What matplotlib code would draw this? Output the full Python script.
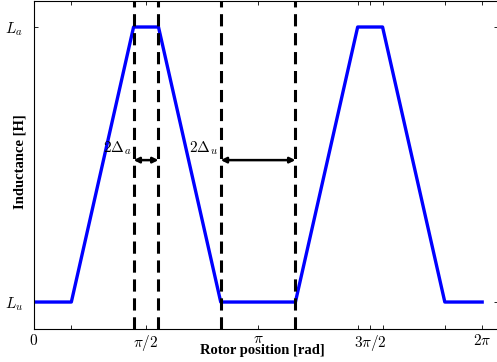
import numpy as np
import matplotlib.pyplot as plt

plt.rcParams['mathtext.fontset'] = 'cm'
plt.rcParams['font.family'] = ['Liberation Serif', 'DejaVu Serif']

# Werte (rad): Lu / La und Breiten der Plateaus
L_u = 1.0
L_a = 2.0
delta_a = np.pi / 18
delta_u = np.pi / 6

# Knickpunkte der Induktivitätskurve
pos = [0, delta_u, np.pi / 2 - delta_a, np.pi / 2 + delta_a, np.pi - delta_u,
       np.pi + delta_u, 3 * np.pi / 2 - delta_a, 3 * np.pi / 2 + delta_a,
       2 * np.pi - delta_u, 2 * np.pi]
ind = [L_u, L_u, L_a, L_a, L_u, L_u, L_a, L_a, L_u, L_u]

dashed_x = [np.pi / 2 - delta_a, np.pi / 2 + delta_a, np.pi - delta_u, np.pi + delta_u]

xticks = [0, delta_u, np.pi / 2 - delta_a, np.pi / 2, np.pi / 2 + delta_a,
          np.pi - delta_u, np.pi, np.pi + delta_u, 3 * np.pi / 2 - delta_a,
          3 * np.pi / 2, 3 * np.pi / 2 + delta_a, 2 * np.pi - delta_u, 2 * np.pi]
xticklabels = ['$0$', '', '', r'$\pi/2$', '', '', r'$\pi$', '', '', r'$3\pi/2$', '', '', r'$2\pi$']

fig = plt.figure(figsize=(4.97, 3.62), dpi=100)
ax = fig.add_axes([0.0684, 0.0912, 0.934, 0.906])

ax.plot(pos, ind, color='#0000ff', lw=2.4)
for xv in dashed_x:
    ax.axvline(xv, color='black', lw=2.2, ls=(0, (4, 2.2)))

y_arr = 1.516
ax.annotate('', xy=(np.pi / 2 - delta_a, y_arr), xytext=(np.pi / 2 + delta_a, y_arr),
            arrowprops=dict(arrowstyle='<|-|>', color='black', lw=1.8, mutation_scale=8,
                            shrinkA=0, shrinkB=0))
ax.annotate('', xy=(np.pi - delta_u, y_arr), xytext=(np.pi + delta_u, y_arr),
            arrowprops=dict(arrowstyle='<|-|>', color='black', lw=1.8, mutation_scale=8,
                            shrinkA=0, shrinkB=0))
ax.text(np.pi / 2 - delta_a - 0.035, y_arr + 0.01, r'$2\Delta_a$', ha='right', va='bottom', fontsize=11)
ax.text(np.pi - delta_u - 0.035, y_arr + 0.01, r'$2\Delta_u$', ha='right', va='bottom', fontsize=11)

ax.set_xlim(0, 6.508)
ax.set_ylim(0.902, 2.0945)
ax.set_xticks(xticks)
ax.set_xticklabels(xticklabels, fontsize=11)
ax.set_yticks([L_u, L_a])
ax.set_yticklabels(['$L_u$', '$L_a$'], fontsize=11)
ax.tick_params(direction='in', top=True, right=True, length=3, width=0.6)
ax.tick_params(axis='x', pad=3)
ax.tick_params(axis='y', pad=8)

ax.set_xlabel('Rotor position [rad]', fontweight='bold', fontsize=10.5)
ax.xaxis.set_label_coords(0.492, -0.046)
ax.set_ylabel('Inductance [H]', fontweight='bold', fontsize=10.5)
ax.yaxis.set_label_coords(-0.016, 0.51)

fig.savefig('out.png', dpi=100)
